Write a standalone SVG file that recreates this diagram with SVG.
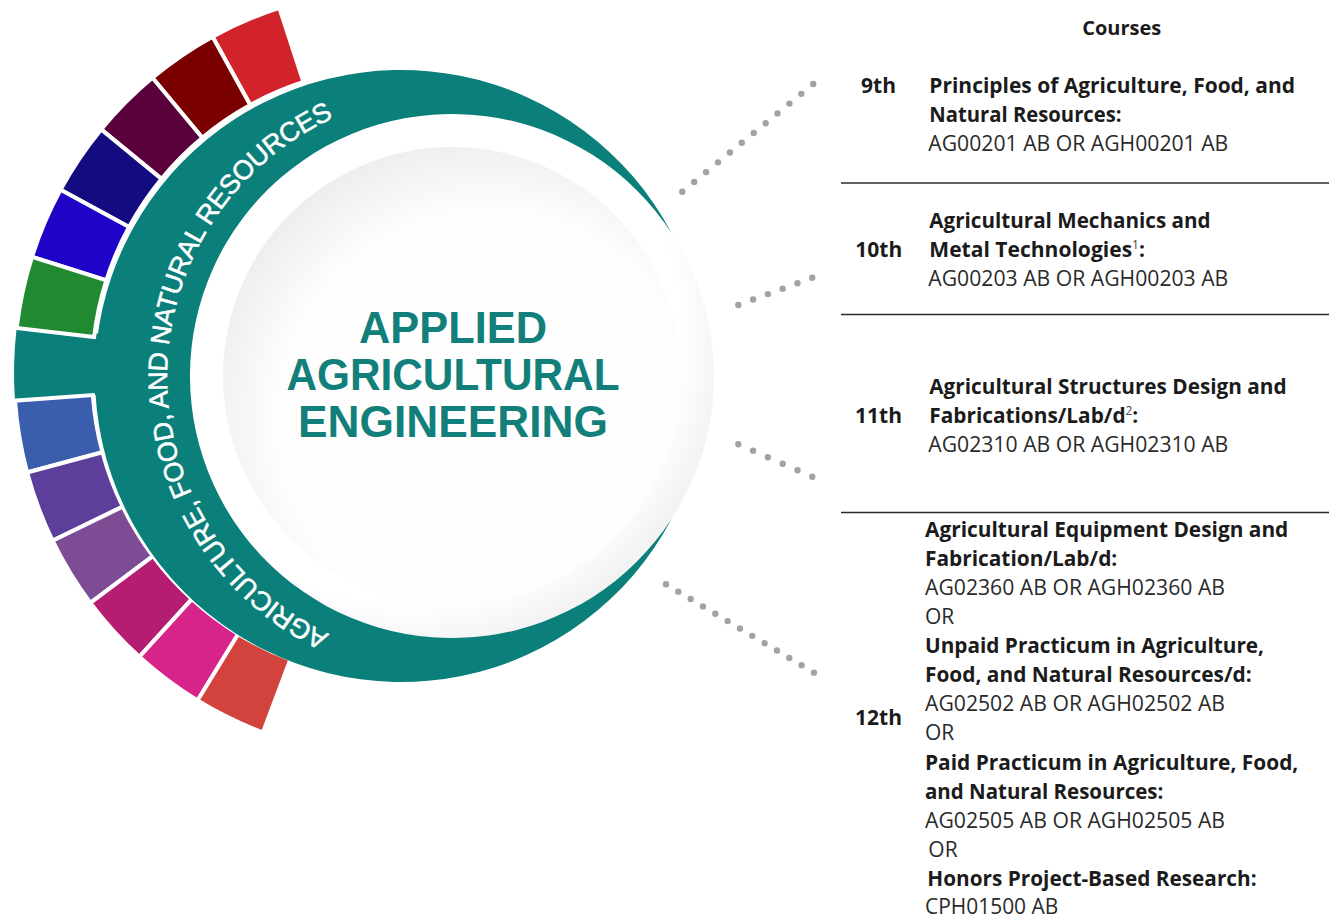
<svg xmlns="http://www.w3.org/2000/svg" width="1329" height="919" viewBox="0 0 1329 919">
<style>
.seg{stroke:#fff;stroke-width:4;stroke-linejoin:miter}
.dots{fill:none;stroke:#a2a2a6;stroke-width:6.4;stroke-linecap:round}
.b{font-family:"Open Sans","Noto Sans",sans-serif;font-weight:700;font-size:21px;fill:#1b1b1b}
.r{font-family:"Open Sans","Noto Sans",sans-serif;font-weight:400;font-size:21px;fill:#2a2a2a}
.g{font-family:"Open Sans","Noto Sans",sans-serif;font-weight:700;font-size:21px;fill:#1b1b1b;text-anchor:middle}
.sup{font-size:12px;font-weight:400;fill:#444}
.div{stroke:#2b2b2b;stroke-width:1.6}
.title{font-family:"Liberation Sans",Arial,sans-serif;font-weight:700;font-size:44px;fill:#127f7b;text-anchor:middle}
.ring{font-family:"Liberation Sans",Arial,sans-serif;font-size:27px;fill:#fff;stroke:#fff;stroke-width:0.5}
</style>
<defs>
<radialGradient id="rimGrad" cx="0.42" cy="0.42" r="0.6">
<stop offset="0" stop-color="#ffffff"/>
<stop offset="0.86" stop-color="#ffffff"/>
<stop offset="1" stop-color="#f3f3f3"/>
</radialGradient>
<radialGradient id="discGrad" cx="0.58" cy="0.6" r="0.62">
<stop offset="0" stop-color="#ffffff"/>
<stop offset="0.75" stop-color="#fdfdfd"/>
<stop offset="1" stop-color="#eeeeee"/>
</radialGradient>
<path id="ringPath" d="M329.3,634.2 A285,285 0 0 1 336.1,116.7"/>
</defs>
<rect width="1329" height="919" fill="#ffffff"/>

<g id="wheel">
<path id="seg-teal-tab" fill="#0b7f7a" d="M16.65,327.95 A384,384 0 0 0 15.00,400.72 L120,393 L120,335 Z"/>
<path class="seg" fill="#d2232a" d="M212.57,36.74 A384,384 0 0 1 279.34,7.79 L303.44,81.98 A306,306 0 0 0 250.23,105.04 Z"/>
<path class="seg" fill="#7a0000" d="M152.43,77.78 A384,384 0 0 1 212.57,36.74 L250.23,105.04 A306,306 0 0 0 202.31,137.75 Z"/>
<path class="seg" fill="#5a003a" d="M101.13,129.42 A384,384 0 0 1 152.43,77.78 L202.31,137.75 A306,306 0 0 0 161.43,178.90 Z"/>
<path class="seg" fill="#140b80" d="M60.49,189.81 A384,384 0 0 1 101.13,129.42 L161.43,178.90 A306,306 0 0 0 129.05,227.02 Z"/>
<path class="seg" fill="#1f03c6" d="M31.99,256.79 A384,384 0 0 1 60.49,189.81 L129.05,227.02 A306,306 0 0 0 106.33,280.39 Z"/>
<path class="seg" fill="#218a30" d="M16.65,327.95 A384,384 0 0 1 31.99,256.79 L106.33,280.39 A306,306 0 0 0 94.11,337.10 Z"/>
<path class="seg" fill="#3b5dad" d="M27.11,472.49 A384,384 0 0 1 15.00,400.72 L92.80,395.09 A306,306 0 0 0 102.45,452.28 Z"/>
<path class="seg" fill="#5d3f9b" d="M52.55,540.69 A384,384 0 0 1 27.11,472.49 L102.45,452.28 A306,306 0 0 0 122.72,506.63 Z"/>
<path class="seg" fill="#7e4c95" d="M90.39,602.87 A384,384 0 0 1 52.55,540.69 L122.72,506.63 A306,306 0 0 0 152.88,556.17 Z"/>
<path class="seg" fill="#b51d73" d="M139.30,656.78 A384,384 0 0 1 90.39,602.87 L152.88,556.17 A306,306 0 0 0 191.84,599.14 Z"/>
<path class="seg" fill="#d6248a" d="M197.50,700.50 A384,384 0 0 1 139.30,656.78 L191.84,599.14 A306,306 0 0 0 238.23,633.98 Z"/>
<path class="seg" fill="#d2433e" d="M262.90,732.45 A384,384 0 0 1 197.50,700.50 L238.23,633.98 A306,306 0 0 0 290.34,659.44 Z"/>
</g>

<g id="hub">
<circle cx="452" cy="376" r="262" fill="url(#rimGrad)"/>
<circle cx="452" cy="376" r="229" fill="url(#discGrad)"/>
<path id="band" fill="#0b7f7a" d="M671.5,233 A306,306 0 1 0 671.5,519 A262,262 0 1 1 671.5,233 Z"/>
<text class="ring"><textPath href="#ringPath" textLength="646" lengthAdjust="spacing">AGRICULTURE, FOOD, AND NATURAL RESOURCES</textPath></text>
<text class="title" x="453" y="343" textLength="188" lengthAdjust="spacingAndGlyphs">APPLIED</text>
<text class="title" x="453" y="390" textLength="333" lengthAdjust="spacingAndGlyphs">AGRICULTURAL</text>
<text class="title" x="453" y="437" textLength="310" lengthAdjust="spacingAndGlyphs">ENGINEERING</text>
</g>

<g id="connectors">
<path class="dots" d="M682.3,191.7 L813.3,84" stroke-dasharray="0 15.41"/>
<path class="dots" d="M738.3,305 L812.3,277.7" stroke-dasharray="0 15.76"/>
<path class="dots" d="M738.3,444.3 L812.3,476.7" stroke-dasharray="0 16.15"/>
<path class="dots" d="M666,584.3 L814,672.7" stroke-dasharray="0 14.36"/>
</g>

<g id="header">
<text class="g" x="1121.7" y="35" style="font-size:20px">Courses</text>
</g>

<g id="row-9th">
<text class="g" x="878.5" y="93">9th</text>
<text class="b" x="929.3" y="93" textLength="365.7" lengthAdjust="spacingAndGlyphs">Principles of Agriculture, Food, and</text>
<text class="b" x="929.3" y="122" textLength="192.3" lengthAdjust="spacingAndGlyphs">Natural Resources:</text>
<text class="r" x="928.3" y="151" textLength="300" lengthAdjust="spacingAndGlyphs">AG00201 AB OR AGH00201 AB</text>
</g>
<line class="div" x1="841" y1="183" x2="1329" y2="183"/>

<g id="row-10th">
<text class="g" x="878.8" y="257">10th</text>
<text class="b" x="929.3" y="228" textLength="281.3" lengthAdjust="spacingAndGlyphs">Agricultural Mechanics and</text>
<text class="b" x="929.3" y="257" textLength="215.7" lengthAdjust="spacingAndGlyphs">Metal Technologies<tspan class="sup" dy="-8">1</tspan><tspan dy="8">:</tspan></text>
<text class="r" x="928.3" y="286" textLength="300" lengthAdjust="spacingAndGlyphs">AG00203 AB OR AGH00203 AB</text>
</g>
<line class="div" x1="841" y1="314.5" x2="1329" y2="314.5"/>

<g id="row-11th">
<text class="g" x="878.5" y="423">11th</text>
<text class="b" x="929.3" y="394" textLength="357.3" lengthAdjust="spacingAndGlyphs">Agricultural Structures Design and</text>
<text class="b" x="929.3" y="423" textLength="209" lengthAdjust="spacingAndGlyphs">Fabrications/Lab/d<tspan class="sup" dy="-8">2</tspan><tspan dy="8">:</tspan></text>
<text class="r" x="928.3" y="452" textLength="300" lengthAdjust="spacingAndGlyphs">AG02310 AB OR AGH02310 AB</text>
</g>
<line class="div" x1="841" y1="512.5" x2="1329" y2="512.5"/>

<g id="row-12th">
<text class="g" x="878.5" y="725">12th</text>
<text class="b" x="925" y="537" textLength="363.3" lengthAdjust="spacingAndGlyphs">Agricultural Equipment Design and</text>
<text class="b" x="925" y="566" textLength="192.3" lengthAdjust="spacingAndGlyphs">Fabrication/Lab/d:</text>
<text class="r" x="925" y="595" textLength="300" lengthAdjust="spacingAndGlyphs">AG02360 AB OR AGH02360 AB</text>
<text class="r" x="925" y="624">OR</text>
<text class="b" x="925" y="653" textLength="339" lengthAdjust="spacingAndGlyphs">Unpaid Practicum in Agriculture,</text>
<text class="b" x="925" y="682" textLength="326.7" lengthAdjust="spacingAndGlyphs">Food, and Natural Resources/d:</text>
<text class="r" x="925" y="711" textLength="300" lengthAdjust="spacingAndGlyphs">AG02502 AB OR AGH02502 AB</text>
<text class="r" x="925" y="740">OR</text>
<text class="b" x="925" y="770" textLength="373.3" lengthAdjust="spacingAndGlyphs">Paid Practicum in Agriculture, Food,</text>
<text class="b" x="925" y="799" textLength="238.3" lengthAdjust="spacingAndGlyphs">and Natural Resources:</text>
<text class="r" x="925" y="828" textLength="300" lengthAdjust="spacingAndGlyphs">AG02505 AB OR AGH02505 AB</text>
<text class="r" x="928.3" y="857">OR</text>
<text class="b" x="927.3" y="886" textLength="329.3" lengthAdjust="spacingAndGlyphs">Honors Project-Based Research:</text>
<text class="r" x="925" y="914" textLength="133.3" lengthAdjust="spacingAndGlyphs">CPH01500 AB</text>
</g>
</svg>
